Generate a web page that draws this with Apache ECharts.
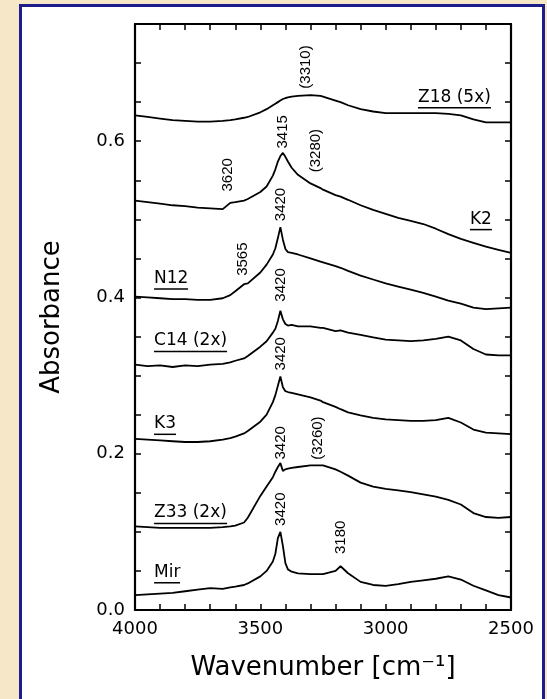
<!DOCTYPE html>
<html>
<head>
<meta charset="utf-8">
<script src="https://cdn.jsdelivr.net/npm/echarts@6/dist/echarts.min.js"></script>
<style>
html, body { margin: 0; padding: 0; background: #f7e7c9; overflow: hidden; }
#frame { position: absolute; left: 19px; top: 4px; width: 520px; height: 700px; border: 3px solid #1c1c8a; background: #fff; }
#chart { width: 520px; height: 692px; }
</style>
</head>
<body>
<div id="frame"><div id="chart"></div></div>
<script>
// wavenumbers (cm-1) shared by all spectra
var wavenumber = [4000, 3950, 3900, 3850, 3800, 3750, 3700, 3650, 3620, 3600, 3565, 3550, 3500, 3475, 3450, 3440, 3430, 3420, 3410, 3400, 3390, 3375, 3350, 3300, 3260, 3250, 3200, 3180, 3150, 3100, 3050, 3000, 2950, 2900, 2850, 2800, 2750, 2700, 2650, 2600, 2550, 2500];

var z18 = [.633, .631, .629, .627, .626, .625, .625, .626, .627, .628, .630, .631, .637, .641, .646, .648, .650, .652, .654, .655, .656, .657, .658, .659, .658, .657, .652, .650, .646, .641, .638, .636, .636, .636, .636, .636, .635, .633, .628, .624, .624, .624];
var k2 = [.524, .522, .520, .518, .517, .515, .514, .513, .521, .522, .524, .526, .535, .542, .556, .564, .574, .581, .585, .580, .574, .566, .557, .546, .540, .538, .531, .529, .525, .518, .512, .507, .502, .498, .494, .488, .481, .475, .470, .465, .461, .457];
var n12 = [.401, .400, .399, .398, .398, .397, .397, .399, .403, .408, .417, .418, .432, .442, .455, .463, .476, .490, .474, .462, .458, .457, .455, .450, .446, .445, .440, .438, .434, .428, .423, .418, .414, .410, .406, .401, .396, .392, .387, .385, .386, .387];
var c14 = [.314, .312, .313, .311, .313, .312, .314, .315, .317, .319, .322, .325, .337, .344, .355, .360, .370, .383, .372, .366, .364, .365, .363, .363, .361, .361, .357, .358, .355, .352, .349, .346, .345, .344, .345, .347, .350, .345, .334, .327, .326, .326];
var k3 = [.219, .218, .217, .216, .215, .215, .216, .218, .220, .222, .226, .229, .241, .250, .266, .275, .287, .299, .285, .280, .279, .278, .276, .272, .268, .266, .260, .257, .253, .249, .246, .244, .243, .242, .242, .243, .246, .240, .231, .227, .226, .225];
var z33 = [.107, .106, .105, .105, .105, .105, .105, .106, .107, .108, .112, .118, .146, .158, .170, .177, .183, .188, .178, .180, .181, .182, .183, .185, .185, .185, .180, .177, .172, .163, .158, .155, .153, .151, .148, .145, .141, .135, .124, .119, .118, .119];
var mir = [.019, .020, .021, .022, .024, .026, .028, .027, .029, .030, .032, .034, .043, .050, .062, .072, .092, .100, .082, .060, .052, .049, .047, .046, .046, .046, .050, .056, .047, .036, .032, .031, .033, .036, .038, .040, .043, .039, .031, .025, .019, .016];

var spectra = [z18, k2, n12, c14, k3, z33, mir];

// sample names, drawn underlined next to their curves
var sampleNames = ['Z18 (5x)', 'K2', 'N12', 'C14 (2x)', 'K3', 'Z33 (2x)', 'Mir'];
var sampleX = [2871, 2664, 3924, 3924, 3924, 3924, 3924];
var sampleY = [0.655, 0.499, 0.423, 0.343, 0.237, 0.123, 0.047];

// band positions written vertically above the peaks
var bandText = ['(3310)', '3620', '3415', '(3280)', '3565', '3420', '3420', '3420', '3420', '(3260)', '3420', '3180'];
var bandX = [3320, 3630, 3410, 3278, 3570, 3420, 3420, 3420, 3420, 3270, 3420, 3180];
var bandY = [0.695, 0.557, 0.612, 0.588, 0.449, 0.519, 0.416, 0.328, 0.214, 0.22, 0.129, 0.093];

var xTickLabels = [4000, 3500, 3000, 2500];
var yTickLabels = [0.0, 0.2, 0.4, 0.6];

var ink = '#000';
var ctx = document.createElement('canvas').getContext('2d');
ctx.font = '17px "DejaVu Sans"';

var series = spectra.map(function (vals) {
    return {
        type: 'line',
        data: wavenumber.map(function (w, i) { return [w, vals[i]]; }),
        showSymbol: false,
        symbol: 'none',
        silent: true,
        lineStyle: { color: ink, width: 1.8 }
    };
});

series.push({
    type: 'scatter',
    symbolSize: 0,
    silent: true,
    itemStyle: { opacity: 1 },
    data: sampleNames.map(function (t, i) {
        var w = Math.round(ctx.measureText(t).width);
        return {
            value: [sampleX[i], sampleY[i]],
            label: {
                show: true,
                position: 'right',
                distance: 0,
                opacity: 1,
                formatter: '{t|' + t + '}\n{u| }',
                rich: {
                    t: { fontSize: 17, fontFamily: 'DejaVu Sans', color: ink, lineHeight: 19 },
                    u: { width: w, height: 1.5, lineHeight: 2, backgroundColor: ink }
                }
            }
        };
    })
});

series.push({
    type: 'scatter',
    symbolSize: 0,
    silent: true,
    itemStyle: { opacity: 1 },
    data: bandX.map(function (x, i) { return { value: [x, bandY[i]], name: bandText[i] }; }),
    label: {
        show: true,
        position: 'inside',
        rotate: 90,
        opacity: 1,
        formatter: '{b}',
        fontSize: 15,
        fontFamily: 'Liberation Sans',
        color: ink
    }
});

var frameLine = { show: true, onZero: false, lineStyle: { color: ink, width: 2.2 } };
var innerTick = { show: true, inside: true, length: 6, lineStyle: { color: ink, width: 1.5 } };

var chart = echarts.init(document.getElementById('chart'));
var option = {
    animation: false,
    backgroundColor: '#fff',
    grid: { left: 113, right: 31, top: 17, bottom: 89 },
    xAxis: [
        {
            type: 'value', inverse: true, min: 2500, max: 4000, interval: 100, position: 'bottom',
            axisLine: frameLine, axisTick: innerTick, splitLine: { show: false },
            axisLabel: {
                margin: 10, fontSize: 18, fontFamily: 'DejaVu Sans', color: ink,
                formatter: function (v) { return xTickLabels.indexOf(v) >= 0 ? String(v) : ''; }
            },
            name: 'Wavenumber [cm\u207B\u00B9]', nameLocation: 'middle', nameGap: 45,
            nameTextStyle: { fontSize: 26, fontFamily: 'DejaVu Sans', color: ink }
        },
        {
            type: 'value', inverse: true, min: 2500, max: 4000, interval: 100, position: 'top',
            axisLine: frameLine, axisTick: innerTick, splitLine: { show: false }, axisLabel: { show: false }
        }
    ],
    yAxis: [
        {
            type: 'value', min: 0, max: 0.75, interval: 0.05, position: 'left',
            axisLine: frameLine, axisTick: innerTick, splitLine: { show: false },
            axisLabel: {
                margin: 10, fontSize: 18, fontFamily: 'DejaVu Sans', color: ink,
                formatter: function (v) {
                    for (var i = 0; i < yTickLabels.length; i++) {
                        if (Math.abs(v - yTickLabels[i]) < 1e-6) return yTickLabels[i].toFixed(1);
                    }
                    return '';
                }
            },
            name: 'Absorbance', nameLocation: 'middle', nameGap: 70, nameRotate: 90,
            nameTextStyle: { fontSize: 26, fontFamily: 'DejaVu Sans', color: ink }
        },
        {
            type: 'value', min: 0, max: 0.75, interval: 0.05, position: 'right',
            axisLine: frameLine, axisTick: innerTick, splitLine: { show: false }, axisLabel: { show: false }
        }
    ],
    series: series
};
chart.setOption(option);
</script>
</body>
</html>
